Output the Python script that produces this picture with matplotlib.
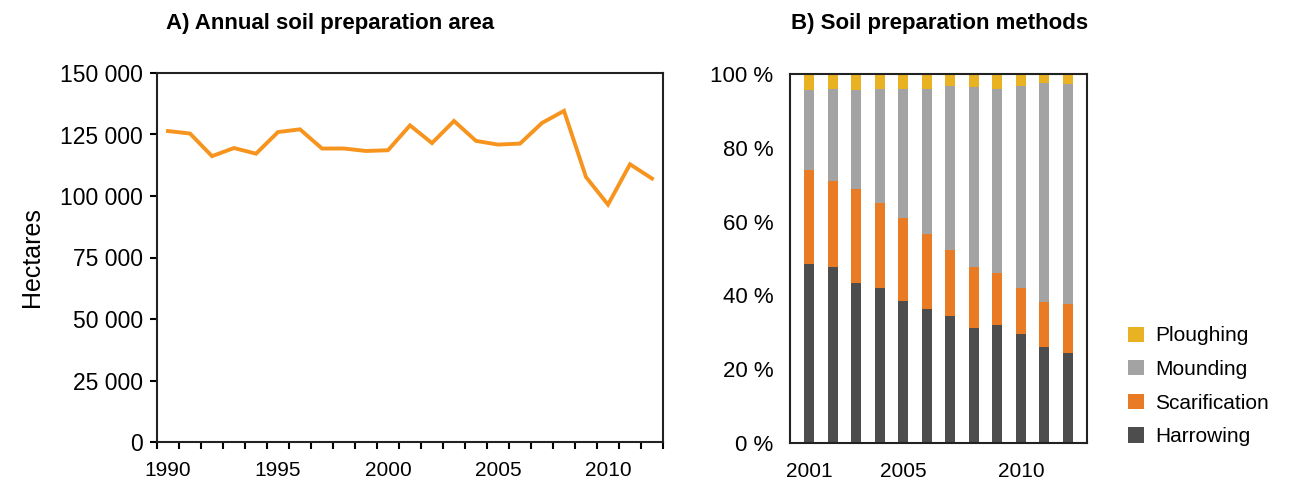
import numpy as np
import matplotlib.pyplot as plt
from matplotlib.ticker import FuncFormatter, MultipleLocator

plt.rcParams['font.family'] = ['Liberation Sans', 'DejaVu Sans']
plt.rcParams['font.size'] = 15

# Panel A: annual soil preparation area (hectares)
years = np.arange(1990, 2013)
area = [126400, 125400, 116200, 119500, 117200, 126000, 127100, 119300, 119300,
        118300, 118600, 128700, 121500, 130500, 122400, 120900, 121300, 129700,
        134600, 107700, 96500, 112900, 107100]

# Panel B: share of methods (%)
method_years = np.arange(2001, 2013)
harrowing = [48.6, 47.6, 43.4, 42.1, 38.4, 36.2, 34.4, 31.3, 32.1, 29.5, 26.0, 24.5]
scarification = [25.4, 23.4, 25.3, 23.0, 22.6, 20.4, 17.9, 16.3, 14.0, 12.5, 12.2, 13.1]
mounding = [21.7, 24.9, 27.0, 30.8, 34.9, 39.2, 44.4, 49.0, 49.7, 54.8, 59.3, 59.7]
ploughing = [4.3, 4.1, 4.3, 4.1, 4.1, 4.2, 3.3, 3.4, 4.2, 3.2, 2.5, 2.7]
method_names = ['Harrowing', 'Scarification', 'Mounding', 'Ploughing']
method_colors = ['#4d4d4d', '#e87b23', '#a3a3a3', '#e8b222']

fig = plt.figure(figsize=(12.98, 4.86), dpi=100)

# ---- A ----
ax1 = fig.add_axes([157/1298, 44/486, 506/1298, 369/486])
ax1.plot(years, area, color='#f7941e', lw=2.8, solid_joinstyle='miter')
ax1.set_xlim(1989.5, 2012.5)
ax1.set_ylim(0, 150000)
ax1.yaxis.set_major_locator(MultipleLocator(25000))
ax1.yaxis.set_major_formatter(FuncFormatter(lambda v, p: f'{int(v):,}'.replace(',', ' ')))
ax1.set_xticks([1990, 1995, 2000, 2005, 2010])
ax1.set_xticks(np.arange(1989.5, 2013), minor=True)
ax1.tick_params(axis='x', which='major', length=0, pad=14, labelsize=15)
ax1.tick_params(axis='x', which='minor', length=5, width=1.5, direction='out')
ax1.tick_params(axis='y', length=5, width=1.5, direction='out', pad=5, labelsize=16.5)
ax1.set_ylabel('Hectares', fontsize=18, labelpad=12)
for s in ax1.spines.values():
    s.set_linewidth(1.5)
    s.set_color('#222222')
fig.text(330/1298, 1 - 23/486, 'A) Annual soil preparation area', ha='center', va='center',
         fontsize=16, fontweight='bold')

# ---- B ----
ax2 = fig.add_axes([790/1298, 43/486, 297/1298, 369/486])
x = np.arange(len(method_years))
bottom = np.zeros(len(x))
handles = []
for vals, name, col in zip([harrowing, scarification, mounding, ploughing], method_names, method_colors):
    h = ax2.bar(x, vals, width=0.43, bottom=bottom, color=col, label=name)
    bottom += np.array(vals)
    handles.append(h)
ax2.set_xlim(-0.81, len(x) - 1 + 0.81)
ax2.set_ylim(0, 100)
ax2.set_yticks(np.arange(0, 101, 20))
ax2.yaxis.set_major_formatter(FuncFormatter(lambda v, p: f'{int(v)} %'))
lab_idx = [0, 4, 9]
ax2.set_xticks(lab_idx)
ax2.set_xticklabels([str(method_years[i]) for i in lab_idx])
ax2.tick_params(axis='x', length=0, pad=14, labelsize=15)
ax2.tick_params(axis='y', length=0, pad=12, labelsize=16)
for s in ax2.spines.values():
    s.set_linewidth(1.5)
    s.set_color('#222222')
fig.text(940/1298, 1 - 23/486, 'B) Soil preparation methods', ha='center', va='center',
         fontsize=16, fontweight='bold')

fig.legend(handles[::-1], method_names[::-1], loc='upper left',
           bbox_to_anchor=(1118/1298, 1 - 316/486), frameon=False,
           handlelength=0.75, handleheight=0.75, handletextpad=0.55,
           labelspacing=0.7, borderpad=0, fontsize=15)

fig.savefig('out.png', dpi=100)
